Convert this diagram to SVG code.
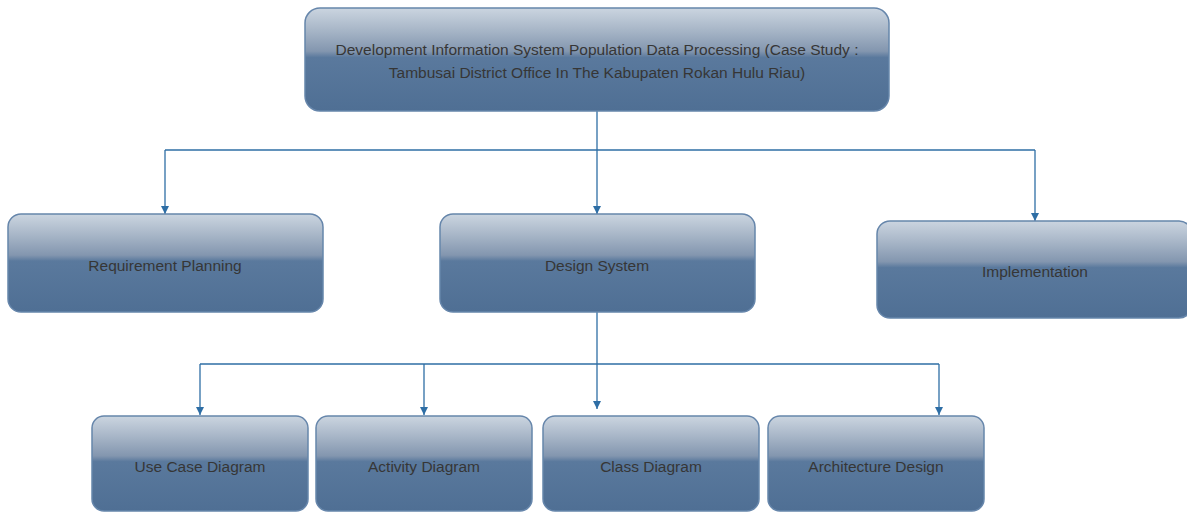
<svg xmlns="http://www.w3.org/2000/svg" width="1187" height="512" viewBox="0 0 1187 512">
<defs>
<linearGradient id="g" x1="0" y1="0" x2="0" y2="1">
<stop offset="0" stop-color="#cbd5e0"/>
<stop offset="0.2" stop-color="#aab8c9"/>
<stop offset="0.42" stop-color="#8396af"/>
<stop offset="0.48" stop-color="#5a799d"/>
<stop offset="1" stop-color="#4f6f94"/>
</linearGradient>
<marker id="ah" viewBox="0 0 10 10" refX="10" refY="5" markerWidth="8" markerHeight="8" markerUnits="userSpaceOnUse" orient="auto">
<path d="M0,0 L10,5 L0,10 z" fill="#2e6ea5"/>
</marker>
<style>
.box{fill:url(#g);stroke:#6686ab;stroke-width:1.5}
.t{font-family:"Liberation Sans",Arial,sans-serif;font-size:15.5px;fill:#363636;text-anchor:middle}
.c{fill:none;stroke:#2e6ea5;stroke-width:1.3}
</style>
</defs>
<rect width="1187" height="512" fill="#fff"/>
<g id="connectors">
<path class="c" d="M597,111 V150"/>
<path class="c" d="M165,150 H1035"/>
<path class="c" d="M165,150 V214" marker-end="url(#ah)"/>
<path class="c" d="M597,150 V214" marker-end="url(#ah)"/>
<path class="c" d="M1035,150 V221" marker-end="url(#ah)"/>
<path class="c" d="M597,312 V364"/>
<path class="c" d="M200,364 H939"/>
<path class="c" d="M200,364 V415" marker-end="url(#ah)"/>
<path class="c" d="M424,364 V415" marker-end="url(#ah)"/>
<path class="c" d="M597,364 V409" marker-end="url(#ah)"/>
<path class="c" d="M939,364 V415" marker-end="url(#ah)"/>
</g>
<g id="root">
<rect class="box" x="305" y="8" width="584" height="103" rx="15"/>
<text class="t" x="597" y="55">Development Information System Population Data Processing (Case Study :</text>
<text class="t" x="597" y="78">Tambusai District Office In The Kabupaten Rokan Hulu Riau)</text>
</g>
<g id="requirement">
<rect class="box" x="8" y="214" width="315" height="98" rx="13"/>
<text class="t" x="165" y="271">Requirement Planning</text>
</g>
<g id="design">
<rect class="box" x="440" y="214" width="315" height="98" rx="13"/>
<text class="t" x="597" y="271">Design System</text>
</g>
<g id="implementation">
<rect class="box" x="877" y="221" width="315" height="97" rx="13"/>
<text class="t" x="1035" y="277">Implementation</text>
</g>
<g id="usecase">
<rect class="box" x="92" y="416" width="216" height="95" rx="12"/>
<text class="t" x="200" y="472">Use Case Diagram</text>
</g>
<g id="activity">
<rect class="box" x="316" y="416" width="216" height="95" rx="12"/>
<text class="t" x="424" y="472">Activity Diagram</text>
</g>
<g id="class">
<rect class="box" x="543" y="416" width="216" height="95" rx="12"/>
<text class="t" x="651" y="472">Class Diagram</text>
</g>
<g id="architecture">
<rect class="box" x="768" y="416" width="216" height="95" rx="12"/>
<text class="t" x="876" y="472">Architecture Design</text>
</g>
</svg>
